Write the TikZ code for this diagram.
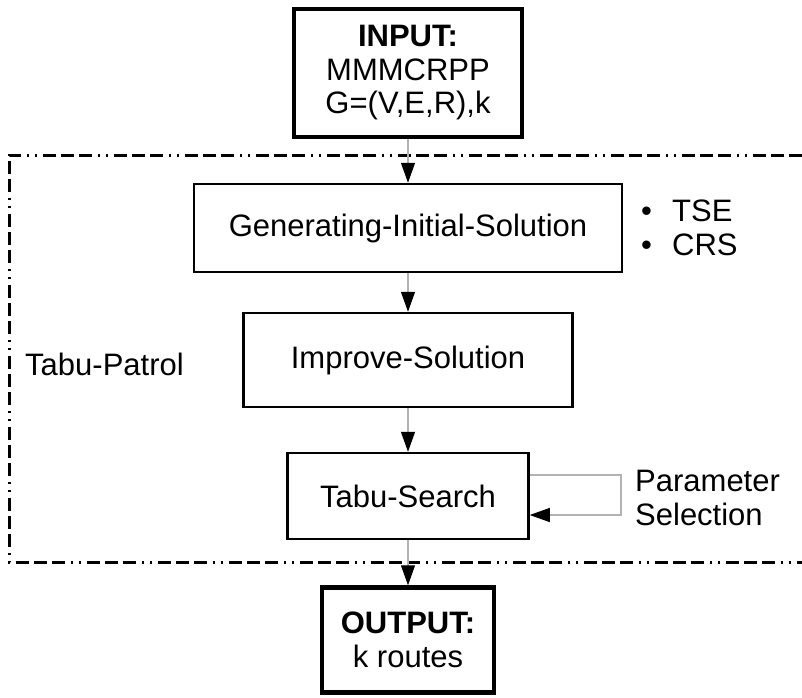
\documentclass[tikz,border=0pt]{standalone}
\usepackage{fontspec}
\setmainfont{Liberation Sans}
\usetikzlibrary{arrows.meta}
\tikzset{
  boxthin/.style={draw=black, line width=2.5pt, align=center, inner sep=0pt},
  boxthick/.style={draw=black, line width=4.5pt, align=center, inner sep=0pt},
  conn/.style={draw=black!30, line width=1.2pt, -{Triangle[length=20pt,width=14pt,color=black,fill=black]}},
  loopline/.style={draw=black!30, line width=1.2pt, -{Triangle[length=20pt,width=14pt,color=black,fill=black]}},
  framestyle/.style={draw=black, line width=3pt, dash pattern=on 13pt off 5pt on 13pt off 5pt on 13pt off 6pt on 2pt off 6pt on 2pt off 6pt},
  lbl/.style={inner sep=0pt, align=left}
}
\begin{document}
\begin{tikzpicture}[x=1pt,y=-1pt]
\useasboundingbox (0,0) rectangle (802,697);
\fontsize{31}{33.5}\selectfont
% frame
\coordinate (ftr) at (802,155);
\coordinate (ftl) at (9,155);
\coordinate (fbl) at (9,562);
\coordinate (fbr) at (802,562);
\draw[framestyle] (ftr) -- (ftl) -- (fbl) -- (fbr);
% boxes
\node[boxthick, minimum width=228pt, minimum height=128pt] (input) at (408,73)
  {\textbf{INPUT:}\\MMMCRPP\\G=(V,E,R),k};
\node[boxthin, minimum width=428pt, minimum height=88pt] (gen) at (408,228)
  {Generating-Initial-Solution};
\node[boxthin, minimum width=329pt, minimum height=94pt] (imp) at (408,360)
  {Improve-Solution};
\node[boxthin, minimum width=241pt, minimum height=86pt] (tabu) at (408,496)
  {Tabu-Search};
\node[boxthick, minimum width=172pt, minimum height=105pt] (output) at (408,640)
  {\textbf{OUTPUT:}\\[1pt]k routes};
% connectors
\draw[conn] (input.south) -- (gen.north);
\draw[conn] (gen.south) -- (imp.north);
\draw[conn] (imp.south) -- (tabu.north);
\draw[conn] (tabu.south) -- (output.north);
% loop
\coordinate (lp1) at (621,475);
\coordinate (lp2) at (621,515);
\draw[loopline] (tabu.east |- lp1) -- (lp1) -- (lp2) -- (tabu.east |- lp2);
% labels
\node[lbl, anchor=west] (tp) at (25,364) {Tabu-Patrol};
\node[lbl, anchor=west] (opts) at (641,228)
  {\makebox[31pt][l]{•}TSE\\\makebox[31pt][l]{•}CRS};
\node[lbl, anchor=west] (ps) at (635,498) {Parameter\\Selection};
\end{tikzpicture}
\end{document}
